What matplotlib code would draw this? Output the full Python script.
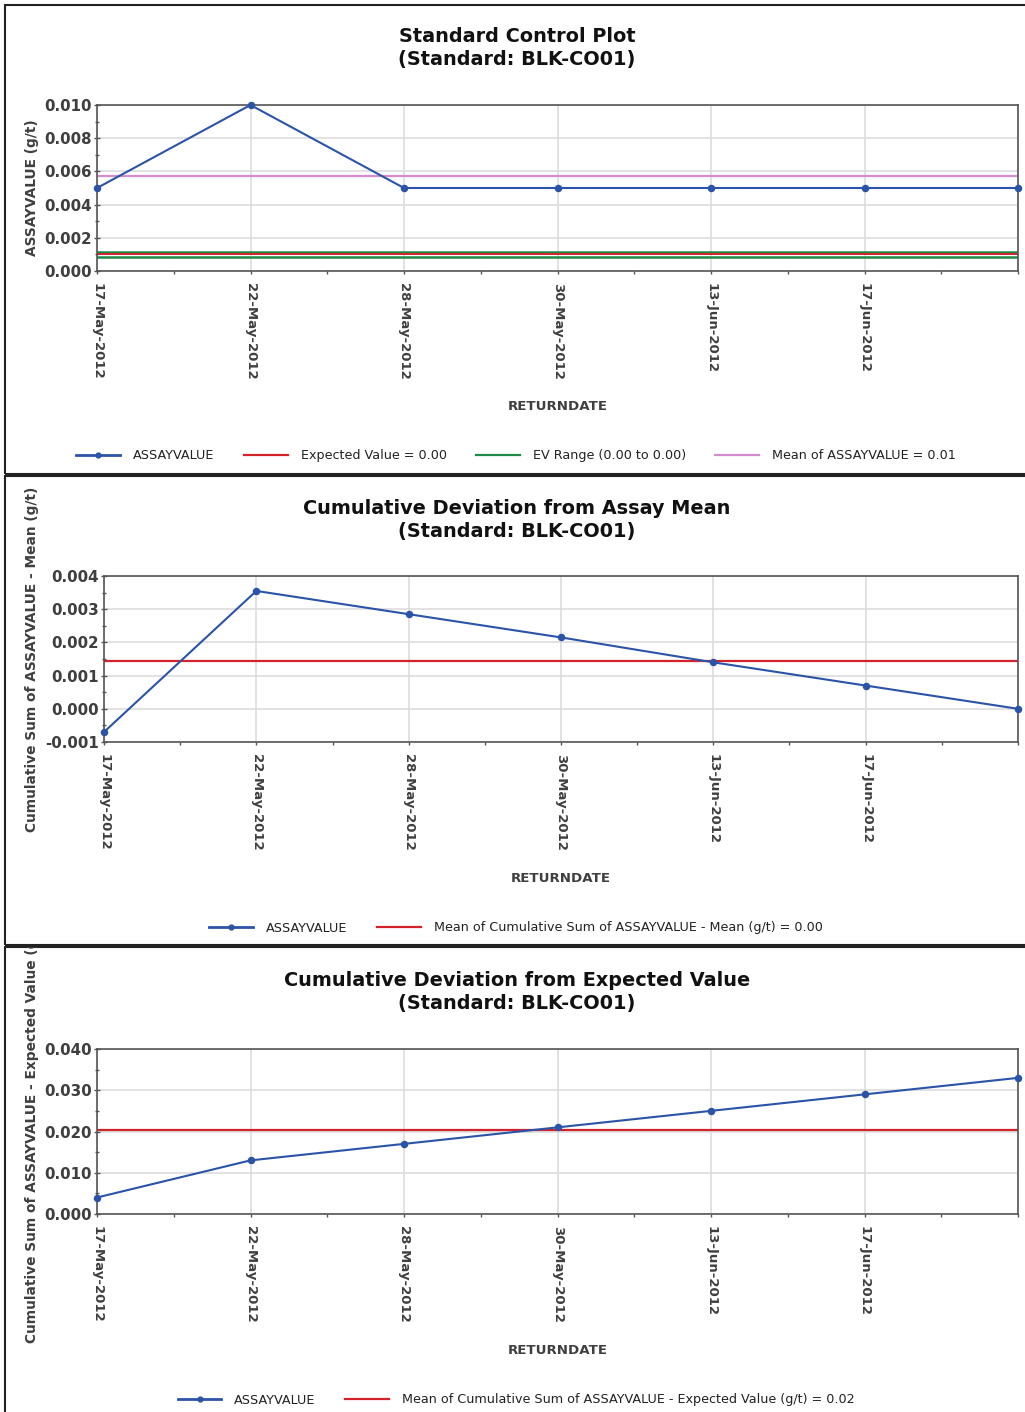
import numpy as np
import matplotlib
matplotlib.use("Agg")
import matplotlib.pyplot as plt
from matplotlib.patches import Rectangle
from matplotlib.lines import Line2D
from matplotlib.ticker import MultipleLocator, FormatStrFormatter
from matplotlib.transforms import Bbox, TransformedBbox, ScaledTranslation

W, H, DPI = 1025, 1412, 100

# ---- data -------------------------------------------------------------
date_labels = ["17-May-2012", "22-May-2012", "28-May-2012",
               "30-May-2012", "13-Jun-2012", "17-Jun-2012"]
assay_values = [0.005, 0.010, 0.005, 0.005, 0.005, 0.005, 0.005]
expected_value = 0.001
ev_range = [0.00087, 0.00113]
assay_mean = 0.0057
cum_dev_mean = [-0.0007, 0.00355, 0.00285, 0.00215, 0.0014, 0.0007, 0.0]
cum_dev_mean_avg = 0.00143
cum_dev_expected = [0.004, 0.013, 0.017, 0.021, 0.025, 0.029, 0.033]
cum_dev_expected_avg = 0.0203

# ---- styling ----------------------------------------------------------
BLUE = "#2b54a8"
RED = "#d2232a"
GREEN = "#1f8a48"
PINK = "#d48bcf"
TEXT = "#3f3f3f"
FRAME = "#222222"
SPINE = "#555555"
GRID = "#dddddd"

plt.rcParams["font.family"] = ["DejaVu Sans"]

fig = plt.figure(figsize=(W / DPI, H / DPI), dpi=DPI)


def fx(px):
    return px / W


def fy(py):
    return 1 - py / H


def box(x0, y0, x1, y1):
    return [x0 / W, 1 - y1 / H, (x1 - x0) / W, (y1 - y0) / H]


def panel(frame, axbox, titles, ylabel, xlabel_y, legend_y, ylim, major,
          minor, series, hlines, series_label, legend_extra, label_shift):
    fx0, fy0, fx1, fy1 = frame
    fig.add_artist(Rectangle((fx(fx0), fy(fy1)), fx(fx1) - fx(fx0),
                             fy(fy0) - fy(fy1), transform=fig.transFigure,
                             fill=False, ec=FRAME, lw=1.5))
    clip = TransformedBbox(Bbox.from_extents(fx(fx0), fy(fy1), 1.0, fy(fy0)),
                           fig.transFigure)

    ax = fig.add_axes(box(*axbox))
    x = np.arange(len(series))
    for y, color, lw in hlines:
        ax.axhline(y, color=color, lw=lw, zorder=2)
    ax.plot(x, series, color=BLUE, lw=1.5, marker="o", ms=4.4, zorder=3,
            clip_on=False)

    ax.set_xlim(0, len(series) - 1)
    ax.set_ylim(*ylim)
    ax.set_xticks(x)
    ax.set_xticklabels(date_labels + [""] * (len(series) - len(date_labels)),
                       rotation=-90, fontsize=9.5, fontweight="bold",
                       color=TEXT)
    shift = ScaledTranslation(label_shift / DPI, 0, fig.dpi_scale_trans)
    for lab in ax.get_xticklabels():
        lab.set_transform(lab.get_transform() + shift)
    ax.xaxis.set_minor_locator(MultipleLocator(0.5))
    ax.yaxis.set_major_locator(MultipleLocator(major))
    ax.yaxis.set_minor_locator(MultipleLocator(minor))
    ax.yaxis.set_major_formatter(FormatStrFormatter("%.3f"))
    for lab in ax.get_yticklabels():
        lab.set_fontweight("bold")
    ax.tick_params(axis="y", which="major", direction="inout", length=4.5,
                   width=1, color=SPINE, labelsize=10.8, labelcolor=TEXT,
                   pad=1.5)
    ax.tick_params(axis="y", which="minor", direction="inout", length=3.5,
                   width=1, color=SPINE)
    ax.tick_params(axis="x", which="both", direction="out", length=2.5,
                   width=1, color=SPINE, pad=6)
    ax.grid(True, which="major", color=GRID, lw=1.2, zorder=0)
    ax.set_axisbelow(True)
    for sp in ax.spines.values():
        sp.set_color(SPINE)
        sp.set_linewidth(1.2)

    cx = (axbox[0] + axbox[2]) / 2
    cy = (axbox[1] + axbox[3]) / 2
    for text, ty in titles:
        fig.text(fx(517), fy(ty), text, ha="center", va="center",
                 fontsize=13.85, fontweight="bold", color="#111111")
    yl = fig.text(fx(32), fy(cy), ylabel, rotation=90, ha="center",
                  va="center", fontsize=9.9, fontweight="bold", color=TEXT)
    yl.set_clip_on(True)
    yl.set_clip_box(clip)
    fig.text(fx(cx), fy(xlabel_y), "RETURNDATE", ha="center", va="center",
             fontsize=9.6, fontweight="bold", color=TEXT)

    handles = [Line2D([], [], color=BLUE, lw=2, marker="o", ms=3.5)]
    labels = [series_label]
    for color, text in legend_extra:
        handles.append(Line2D([], [], color=color, lw=1.6))
        labels.append(text)
    fig.legend(handles, labels, loc="center",
               bbox_to_anchor=(fx(516), fy(legend_y)), ncol=len(handles),
               frameon=False, fontsize=9.15, handlelength=3.45,
               handletextpad=1.02, columnspacing=2.3, labelcolor="#222222")
    return ax


subtitle = "(Standard: BLK-CO01)"

panel(frame=(5, 5, 1040, 474), axbox=(97, 105, 1018, 271),
      titles=[("Standard Control Plot", 36), (subtitle, 60)],
      ylabel="ASSAYVALUE (g/t)", xlabel_y=406, legend_y=456,
      ylim=(0, 0.010), major=0.002, minor=0.001, series=assay_values,
      hlines=[(ev_range[0], GREEN, 1.8), (ev_range[1], GREEN, 1.8),
              (expected_value, RED, 1.4), (assay_mean, PINK, 1.6)],
      series_label="ASSAYVALUE",
      legend_extra=[(RED, "Expected Value = 0.00"),
                    (GREEN, "EV Range (0.00 to 0.00)"),
                    (PINK, "Mean of ASSAYVALUE = 0.01")],
      label_shift=-3.5)

panel(frame=(5, 476, 1040, 945), axbox=(104, 576, 1018, 742),
      titles=[("Cumulative Deviation from Assay Mean", 508), (subtitle, 532)],
      ylabel="Cumulative Sum of ASSAYVALUE - Mean (g/t)", xlabel_y=878,
      legend_y=928, ylim=(-0.001, 0.004), major=0.001, minor=0.0005,
      series=cum_dev_mean, hlines=[(cum_dev_mean_avg, RED, 1.6)],
      series_label="ASSAYVALUE",
      legend_extra=[(RED, "Mean of Cumulative Sum of ASSAYVALUE - Mean (g/t) = 0.00")],
      label_shift=-2.5)

panel(frame=(5, 947, 1040, 1430), axbox=(97, 1049, 1018, 1214),
      titles=[("Cumulative Deviation from Expected Value", 980), (subtitle, 1003)],
      ylabel="Cumulative Sum of ASSAYVALUE - Expected Value (g/t)",
      xlabel_y=1350, legend_y=1400, ylim=(0, 0.040), major=0.010,
      minor=0.005, series=cum_dev_expected,
      hlines=[(cum_dev_expected_avg, RED, 1.6)], series_label="ASSAYVALUE",
      legend_extra=[(RED, "Mean of Cumulative Sum of ASSAYVALUE - Expected Value (g/t) = 0.02")],
      label_shift=-3.5)

fig.savefig("out.png", dpi=DPI)
